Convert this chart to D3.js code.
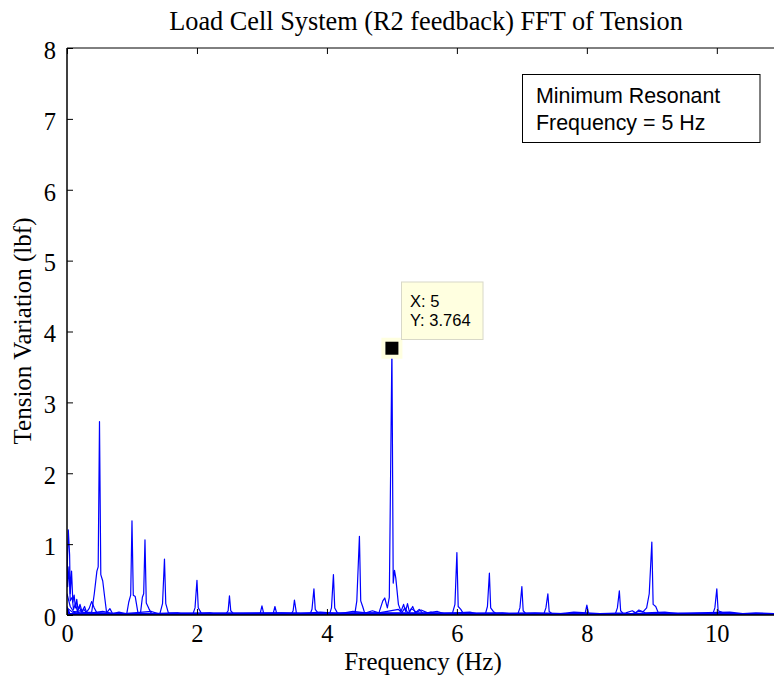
<!DOCTYPE html>
<html><head><meta charset="utf-8">
<script src="https://cdn.jsdelivr.net/npm/d3@7"></script>
<style>
body{margin:0;background:#fff;}
svg{display:block;}
</style></head><body>
<svg id="c" width="774" height="682"></svg>
<script>
// ---- data ----
const xTicks = [0, 2, 4, 6, 8, 10];
const yTicks = [0, 1, 2, 3, 4, 5, 6, 7, 8];
const titleText = "Load Cell System (R2 feedback) FFT of Tension";
const xLabel = "Frequency (Hz)";
const yLabel = "Tension Variation (lbf)";
const noteLines = ["Minimum Resonant", "Frequency = 5 Hz"];
const tipPoint = {x: 5, y: 3.764};

// each run of the sweep: [frequency, amplitude]
const runLow1 = [[0,0.55],[0.02,1.2],[0.04,0.85],[0.05,0.3],[0.07,0.62],[0.09,0.18],[0.11,0.28],[0.13,0.1],[0.15,0.22],[0.17,0.07],[0.2,0.15],[0.23,0.05],[0.27,0.12],[0.3,0.04],[0.34,0.09],[0.38,0.19],[0.42,0.1],[0.46,0.03],[0.6,0.02],[1.2,0.01],[10.88,0.01]];
const runLow2 = [[0,0.78],[0.01,0.4],[0.03,0.68],[0.05,0.2],[0.08,0.25],[0.1,0.08],[0.13,0.16],[0.16,0.05],[0.19,0.12],[0.22,0.04],[0.26,0.08],[0.3,0.03],[0.5,0.03],[0.8,0.02],[10.88,0.01]];
const run05 = [[0,0.3],[0.05,0.12],[0.1,0.05],[0.2,0.03],[0.38,0.04],[0.42,0.3],[0.46,0.62],[0.48,0.68],[0.5,2.73],[0.52,0.57],[0.55,0.48],[0.58,0.25],[0.61,0.03],[0.66,0.09],[0.7,0.02],[10.88,0.01]];
const run10 = [[0,0.12],[0.04,0.02],[0.92,0.02],[0.95,0.18],[0.98,0.28],[1.0,1.33],[1.02,0.28],[1.05,0.26],[1.09,0.04],[1.14,0.01],[10.88,0.01]];
const run12 = [[0,0.1],[0.04,0.02],[1.13,0.02],[1.16,0.25],[1.18,0.3],[1.2,1.06],[1.22,0.17],[1.26,0.09],[1.3,0.02],[10.88,0.01]];
const run15 = [[0,0.08],[0.04,0.02],[1.43,0.02],[1.47,0.16],[1.5,0.79],[1.52,0.16],[1.56,0.03],[10.88,0.01]];
const run20 = [[0,0.07],[0.04,0.02],[1.94,0.02],[1.97,0.1],[2.0,0.49],[2.02,0.1],[2.07,0.02],[10.88,0.01]];
const run25 = [[0,0.06],[0.04,0.02],[2.45,0.02],[2.48,0.06],[2.5,0.27],[2.52,0.06],[2.56,0.02],[10.88,0.01]];
const run30 = [[0,0.05],[0.04,0.01],[2.97,0.01],[3.0,0.13],[3.03,0.01],[10.88,0.01]];
const run32 = [[0,0.05],[0.04,0.01],[3.17,0.01],[3.2,0.12],[3.23,0.01],[10.88,0.01]];
const run35 = [[0,0.05],[0.04,0.01],[3.45,0.01],[3.48,0.06],[3.5,0.21],[3.53,0.03],[3.56,0.01],[10.88,0.01]];
const run38 = [[0,0.05],[0.04,0.01],[3.74,0.01],[3.77,0.08],[3.8,0.37],[3.82,0.08],[3.87,0.02],[10.88,0.01]];
const run41 = [[0,0.05],[0.04,0.01],[4.04,0.01],[4.07,0.1],[4.1,0.57],[4.12,0.1],[4.16,0.03],[10.88,0.01]];
const run45 = [[0,0.05],[0.04,0.01],[4.43,0.02],[4.46,0.2],[4.5,1.11],[4.52,0.2],[4.55,0.12],[4.58,0.03],[10.88,0.01]];
const run50 = [[0,0.05],[0.04,0.02],[4.8,0.03],[4.86,0.2],[4.89,0.24],[4.93,0.1],[4.96,0.25],[5.0,3.764],[5.02,0.45],[5.04,0.63],[5.06,0.52],[5.1,0.15],[5.14,0.05],[5.18,0.15],[5.21,0.05],[5.24,0.16],[5.27,0.04],[5.32,0.12],[5.36,0.03],[5.42,0.08],[5.48,0.02],[5.6,0.04],[5.7,0.01],[10.88,0.01]];
const run60 = [[0,0.04],[0.04,0.01],[5.93,0.02],[5.97,0.15],[6.0,0.88],[6.02,0.12],[6.06,0.08],[6.1,0.02],[10.88,0.01]];
const run65 = [[0,0.04],[0.04,0.01],[6.44,0.02],[6.47,0.12],[6.5,0.59],[6.52,0.1],[6.56,0.05],[6.6,0.02],[10.88,0.01]];
const run70 = [[0,0.04],[0.04,0.01],[6.94,0.02],[6.97,0.1],[7.0,0.4],[7.02,0.06],[7.06,0.02],[10.88,0.01]];
const run74 = [[0,0.04],[0.04,0.01],[7.34,0.02],[7.37,0.1],[7.4,0.3],[7.42,0.05],[7.46,0.02],[10.88,0.01]];
const run80 = [[0,0.04],[0.04,0.01],[7.97,0.01],[8.0,0.14],[8.03,0.01],[10.88,0.01]];
const run85 = [[0,0.04],[0.04,0.01],[8.44,0.02],[8.47,0.1],[8.5,0.34],[8.52,0.06],[8.56,0.02],[10.88,0.01]];
const run90 = [[0,0.04],[0.04,0.01],[8.7,0.02],[8.8,0.05],[8.86,0.04],[8.92,0.1],[8.96,0.3],[9.0,1.03],[9.02,0.15],[9.06,0.12],[9.1,0.03],[10.88,0.01]];
const run100 = [[0,0.04],[0.04,0.01],[9.94,0.02],[9.97,0.1],[10.0,0.37],[10.02,0.06],[10.07,0.04],[10.12,0.02],[10.88,0.01]];
const noiseRun = [[0,0.1],[0.1,0.03],[0.2,0.06],[0.3,0.02],[0.55,0.05],[0.7,0.02],[0.8,0.04],[0.9,0.02],[1.3,0.05],[1.4,0.02],[1.7,0.03],[1.8,0.01],[2.2,0.03],[2.3,0.01],[2.7,0.02],[3.3,0.03],[3.6,0.02],[3.9,0.04],[4.2,0.02],[4.4,0.05],[4.6,0.03],[4.7,0.06],[4.8,0.03],[5.1,0.08],[5.15,0.03],[5.2,0.1],[5.25,0.02],[5.3,0.09],[5.38,0.04],[5.45,0.07],[5.55,0.03],[5.7,0.05],[5.8,0.02],[6.2,0.04],[6.3,0.02],[6.7,0.03],[6.8,0.02],[7.2,0.03],[7.6,0.02],[7.8,0.04],[8.2,0.02],[8.6,0.03],[8.7,0.06],[8.75,0.03],[8.8,0.07],[8.9,0.03],[9.2,0.04],[9.4,0.02],[9.7,0.03],[10.2,0.04],[10.4,0.02],[10.6,0.03],[10.88,0.02]];
const runs = [runLow1, runLow2, run05, run10, run12, run15, run20, run25, run30, run32, run35, run38, run41, run45, run50, run60, run65, run70, run74, run80, run85, run90, run100, noiseRun];

// ---- layout ----
const svg = d3.select("#c");
const pLeft = 67, pTop = 48, pBottom = 615, pRight = 774;
const x = d3.scaleLinear().domain([0, 10.88]).range([pLeft, pRight]);
const y = d3.scaleLinear().domain([0, 8]).range([pBottom, pTop]);
const serif = "'Liberation Serif','Times New Roman',serif";
const sans = "'Liberation Sans',Arial,Helvetica,sans-serif";

svg.append("defs").append("clipPath").attr("id","clip")
  .append("rect").attr("x", pLeft).attr("y", pTop - 1).attr("width", pRight-pLeft).attr("height", pBottom-pTop + 1);

// lines
const line = d3.line().x(d => x(d[0])).y(d => y(d[1]));
svg.append("g").attr("clip-path","url(#clip)")
  .selectAll("path").data(runs).join("path")
  .attr("d", line).attr("fill","none").attr("stroke","#0000ff").attr("stroke-width",1.2)
  .attr("stroke-linejoin","round");

// axes (inward ticks)
const axB = svg.append("g").attr("transform",`translate(0,${pBottom})`)
  .call(d3.axisBottom(x).tickValues(xTicks).tickSize(-6).tickFormat(d3.format("d")));
const axT = svg.append("g").attr("transform",`translate(0,${pTop})`)
  .call(d3.axisTop(x).tickValues(xTicks).tickSize(-6).tickFormat(""));
const axL = svg.append("g").attr("transform",`translate(${pLeft},0)`)
  .call(d3.axisLeft(y).tickValues(yTicks).tickSize(-6).tickPadding(11).tickFormat(d3.format("d")));
[axB, axT, axL].forEach(a => {
  a.select(".domain").remove();
  a.attr("font-family", null).attr("font-size", null);
  a.selectAll("line").attr("stroke","#000");
  a.selectAll("text").style("font-family", serif).style("font-size", "24.5px").attr("fill","#000");
});
axB.selectAll("text").attr("y", 27).attr("dy", null);
axL.selectAll("text").attr("dy", "0.42em");
// frame lines (left, bottom, top)
svg.append("line").attr("x1",pLeft).attr("x2",pRight).attr("y1",pTop).attr("y2",pTop).attr("stroke","#000");
svg.append("line").attr("x1",pLeft).attr("x2",pRight).attr("y1",pBottom).attr("y2",pBottom).attr("stroke","#000").attr("stroke-width",1.5);
svg.append("line").attr("x1",pLeft).attr("x2",pLeft).attr("y1",pTop).attr("y2",pBottom).attr("stroke","#000").attr("stroke-width",1.5);

// titles
svg.append("text").attr("x", 426).attr("y", 29.5).attr("text-anchor","middle")
  .style("font-family", serif).style("font-size", "26.3px").text(titleText);
svg.append("text").attr("x", 423).attr("y", 670).attr("text-anchor","middle")
  .style("font-family", serif).style("font-size", "25px").text(xLabel);
svg.append("text").attr("transform","translate(31,331) rotate(-90)").attr("text-anchor","middle")
  .style("font-family", serif).style("font-size", "25px").text(yLabel);

// annotation box
svg.append("rect").attr("x",522.5).attr("y",74.5).attr("width",237.5).attr("height",68)
  .attr("fill","#fff").attr("stroke","#000");
svg.selectAll("text.note").data(noteLines).join("text").attr("class","note")
  .attr("x", 536).attr("y", (d,i) => 102.5 + i*27)
  .style("font-family", sans).style("font-size", "21.4px").text(d => d);

// data tip
const px = x(tipPoint.x), py = y(tipPoint.y);
svg.append("rect").attr("x",px-10.5).attr("y",py-10.5).attr("width",21).attr("height",21).attr("fill","#ffffe0");
svg.append("rect").attr("x",px-6.5).attr("y",py-6.5).attr("width",13).attr("height",13).attr("fill","#000");
svg.append("rect").attr("x",401.5).attr("y",282).attr("width",81.5).attr("height",57.5)
  .attr("fill","#ffffe0").attr("stroke","#d8d8c8");
svg.selectAll("text.tip").data(["X: " + tipPoint.x, "Y: " + tipPoint.y]).join("text").attr("class","tip")
  .attr("x", 410).attr("y", (d,i) => 306.5 + i*19.5)
  .style("font-family", sans).style("font-size", "16.5px").text(d => d);
</script>
</body></html>
